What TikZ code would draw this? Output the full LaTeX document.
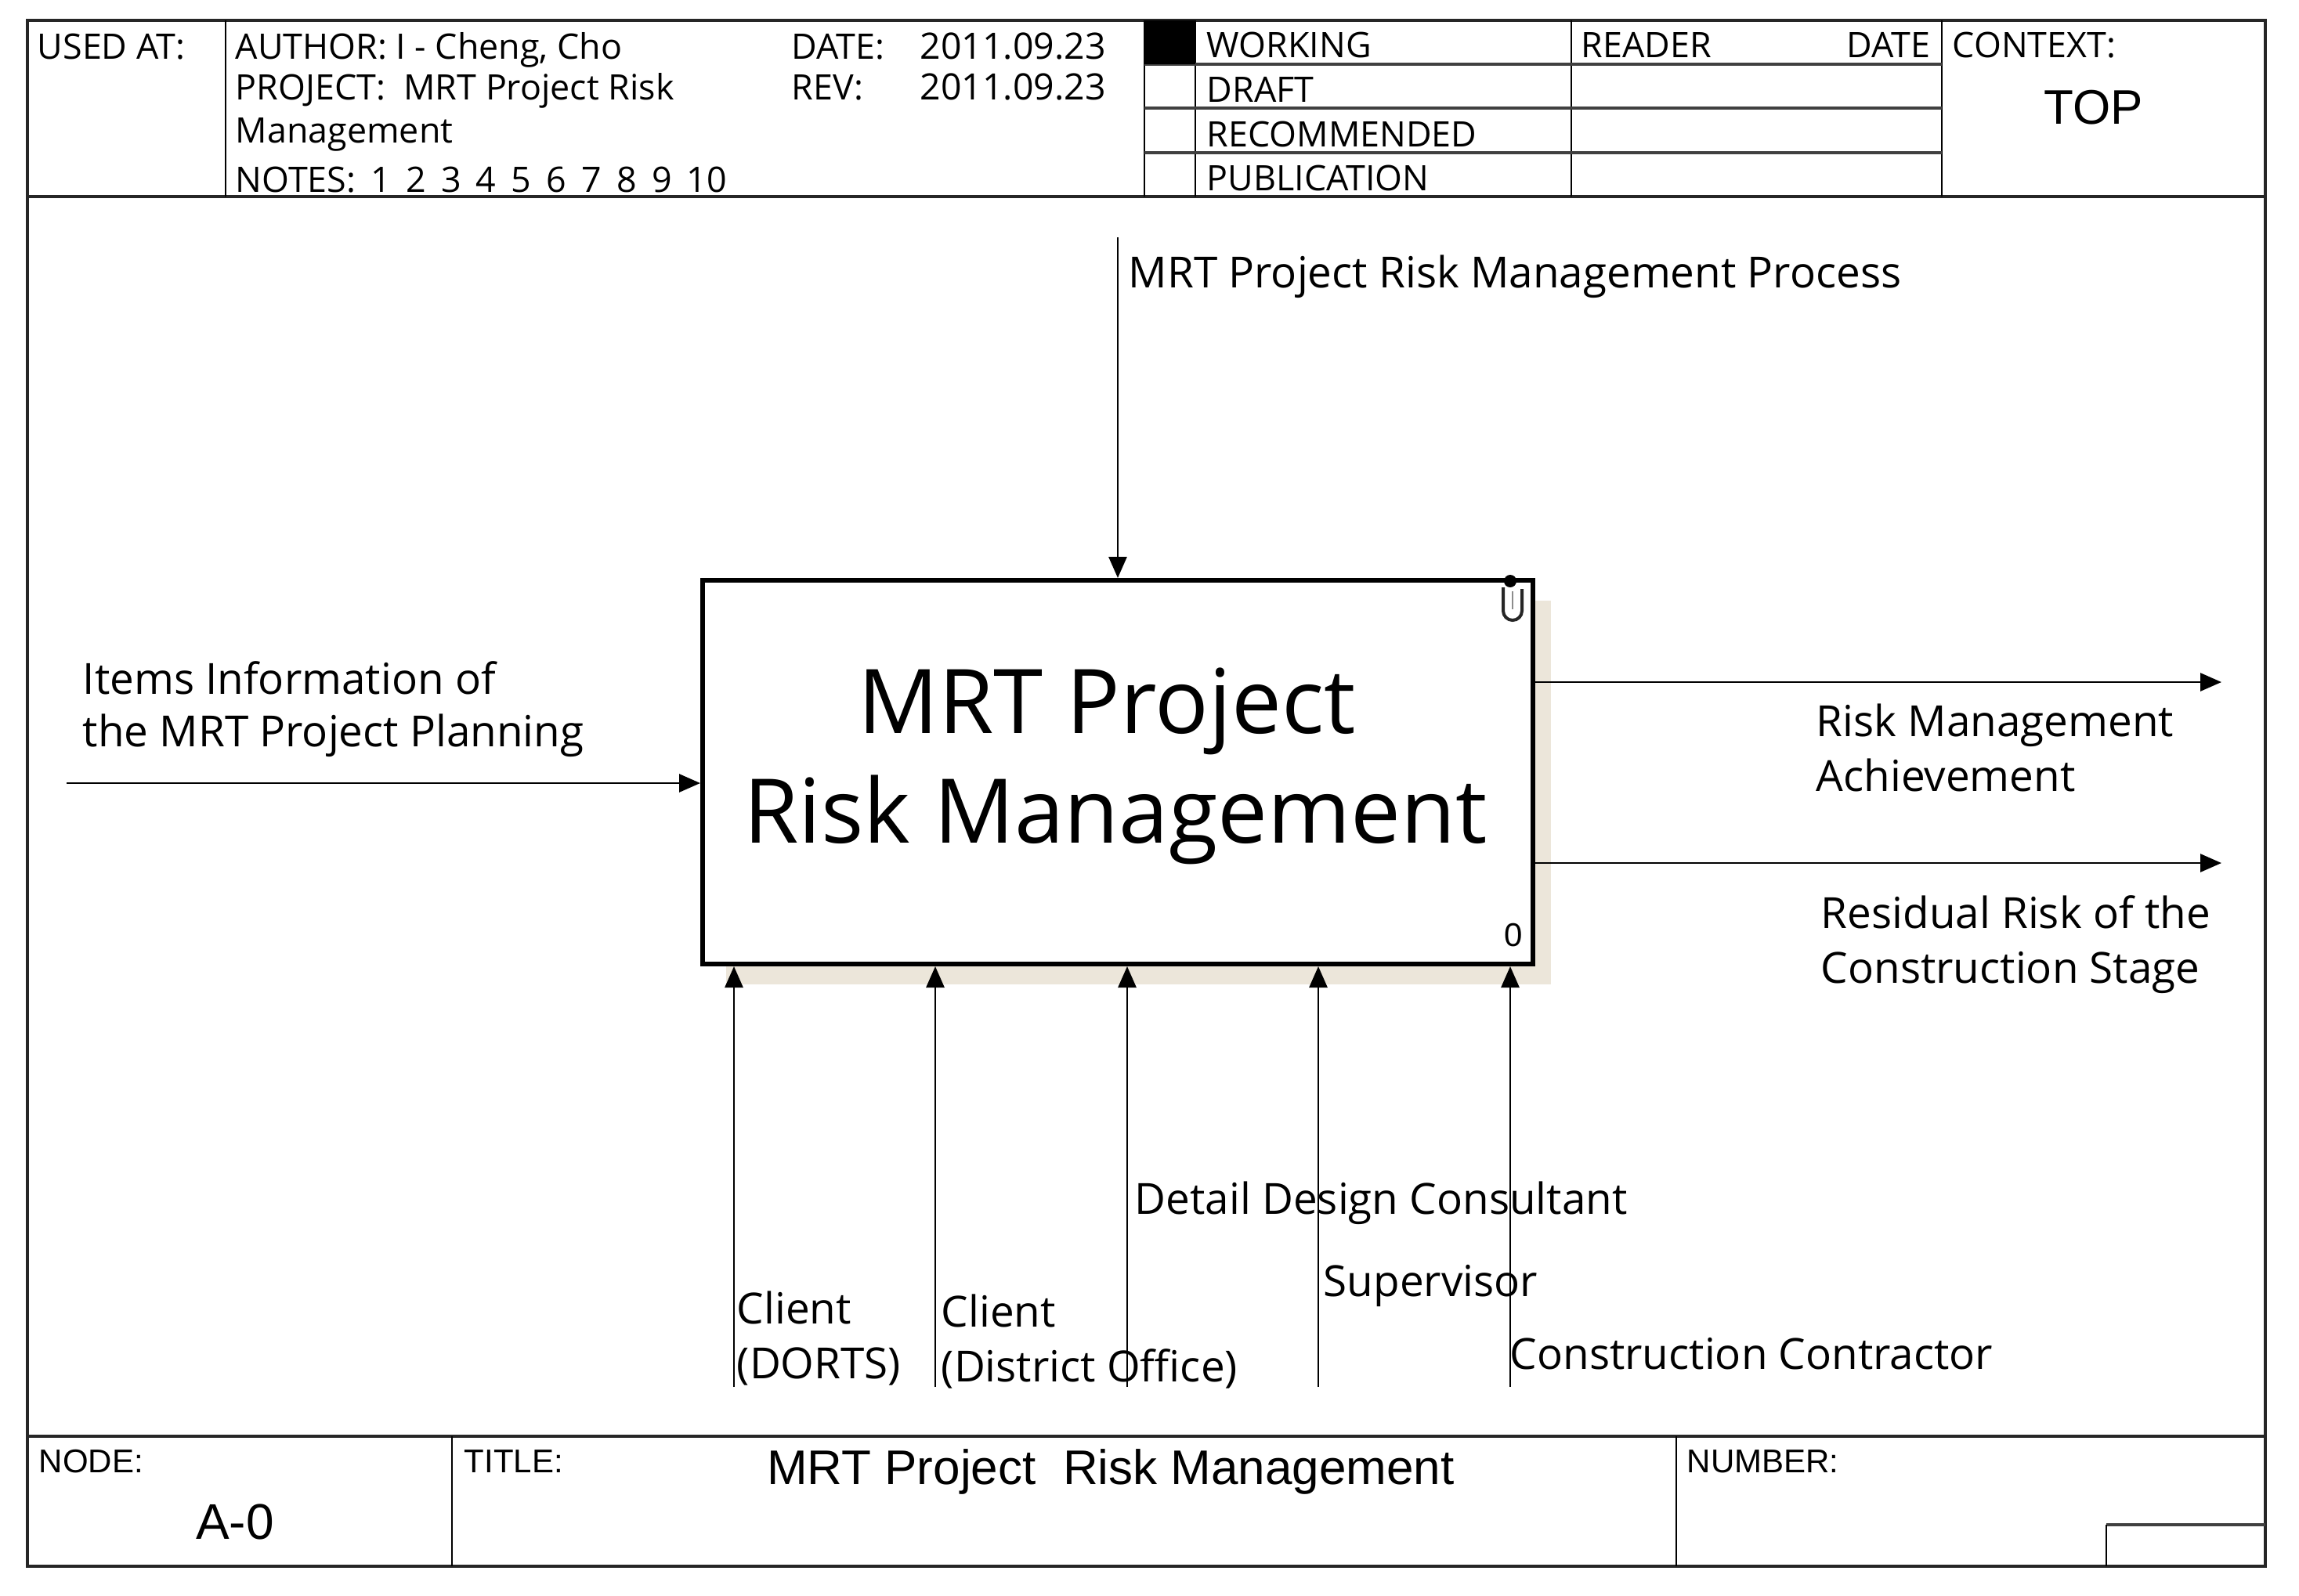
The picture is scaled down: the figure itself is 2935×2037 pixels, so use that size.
\documentclass[tikz,border=0pt]{standalone}
\usepackage{fontspec}
\setmainfont{Open Sans}
\newfontfamily\arialf{Liberation Sans}
\usetikzlibrary{arrows.meta}
\definecolor{shadowc}{RGB}{236,230,218}
\begin{document}
\begin{tikzpicture}[x=0.25pt,y=-0.25pt,
  frame/.style={line width=1.1pt, draw=black!85},
  rowline/.style={line width=1pt, draw=black!75},
  thinline/.style={line width=0.5pt, draw=black},
  arr/.style={line width=0.7pt, draw=black, -{Triangle[length=6.75pt,width=5.75pt]}},
  hdr/.style={font=\fontsize{11.2}{13}\selectfont, inner sep=0pt, anchor=base west},
  lbl/.style={font=\fontsize{13.7}{16}\selectfont, inner sep=0pt, anchor=base west},
  ar/.style={font=\arialf\fontsize{10.5}{12}\selectfont, inner sep=0pt, anchor=base west},
  boxtxt/.style={font=\fontsize{28.5}{34}\selectfont, inner sep=0pt, anchor=base},
]
\useasboundingbox (0,0) rectangle (2935,2037);
\fill[white] (0,0) rectangle (2935,2037);

% ---------- frame ----------
\draw[frame] (35,26) rectangle (2892,2000);
\draw[frame] (35,251) -- (2892,251);
\draw[frame] (35,1834) -- (2892,1834);

% ---------- header ----------
\draw[thinline] (288,26) -- (288,251);
\draw[thinline] (1461,26) -- (1461,251);
\draw[thinline] (1526,26) -- (1526,251);
\draw[thinline] (2006,26) -- (2006,251);
\draw[thinline] (2479,26) -- (2479,251);
\draw[rowline] (1461,82) -- (2479,82);
\draw[rowline] (1461,138) -- (2479,138);
\draw[rowline] (1461,195) -- (2479,195);
\fill[black] (1461,26) rectangle (1526,82);

\node[hdr] (usedat) at (47,75) {USED AT:};
\node[hdr] (author) at (300,75) {AUTHOR: I - Cheng, Cho};
\node[hdr] (project) at (300,127) {PROJECT:\ \ MRT Project Risk};
\node[hdr] (project2) at (300,182) {Management};
\node[hdr] (notes) at (300,245) {\spaceskip=4.8pt NOTES: 1 2 3 4 5 6 7 8 9 10};
\node[hdr] (datek) at (1010,75) {DATE:};
\node[hdr, font=\fontsize{11.6}{13}\selectfont] (datev) at (1174,75) {2011.09.23};
\node[hdr] (revk) at (1010,127) {REV:};
\node[hdr, font=\fontsize{11.6}{13}\selectfont] (revv) at (1174,127) {2011.09.23};
\node[hdr] (working) at (1540,73) {WORKING};
\node[hdr] (draft) at (1540,130) {DRAFT};
\node[hdr] (recomm) at (1540,187) {RECOMMENDED};
\node[hdr] (public) at (1540,243) {PUBLICATION};
\node[hdr] (reader) at (2018,73) {READER};
\node[hdr, anchor=base east] (rdate) at (2465,73) {DATE};
\node[hdr] (context) at (2492,73) {CONTEXT:};
\node[font=\arialf\fontsize{15.5}{18}\selectfont, inner sep=0pt, anchor=base] (top) at (2673,158) {TOP};

% ---------- title block ----------
\draw[thinline] (577,1834) -- (577,2000);
\draw[thinline] (2140,1834) -- (2140,2000);
\draw[rowline] (2689,1947) -- (2892,1947);
\draw[thinline] (2689,1947) -- (2689,2000);
\node[ar] (nodek) at (49,1880) {NODE:};
\node[ar] (titlek) at (592,1880) {TITLE:};
\node[ar] (numberk) at (2153,1880) {NUMBER:};
\node[font=\arialf\fontsize{16}{18}\selectfont, inner sep=0pt, anchor=base] (nodev) at (300,1965) {A-0};
\node[font=\arialf\fontsize{15.5}{18}\selectfont, inner sep=0pt, anchor=base] (titlev) at (1418,1895) {MRT Project\ \ Risk Management};

% ---------- activity box ----------
\fill[shadowc] (927,767) rectangle (1980,1257);
\node[draw, line width=1.5pt, fill=white, minimum width=265pt, minimum height=122.5pt, inner sep=0pt] (A0) at (1427,986) {};
\node[boxtxt] (boxt1) at (1413,936) {MRT Project};
\node[boxtxt] (boxt2) at (1424,1076) {Risk Management};
\node[font=\arialf\fontsize{10.5}{12}\selectfont, inner sep=0pt] (zero) at (1932,1194) {0};
% clip marker
\draw[line width=1pt, black!85] (1919,750) -- (1919,780) arc[start angle=180,end angle=0,radius=12] -- (1943,752);
\draw[line width=0.6pt, black!45] (1931,755) -- (1931,778);
\fill[black] (1928,742) circle (8);

% ---------- control ----------
\coordinate (ctl) at (1427,303);
\draw[arr] (ctl) -- (ctl |- A0.north);
\node[lbl] (ctltxt) at (1440,367) {MRT Project Risk Management Process};

% ---------- input ----------
\coordinate (inp) at (85,1000);
\draw[arr] (inp) -- (inp -| A0.west);
\node[lbl] (inptxt1) at (105,886) {Items Information of};
\node[lbl] (inptxt2) at (105,953) {the MRT Project Planning};

% ---------- outputs ----------
\coordinate (out1) at (2836,871);
\coordinate (out2) at (2836,1102);
\draw[arr] (out1 -| A0.east) -- (out1);
\draw[arr] (out2 -| A0.east) -- (out2);
\node[lbl] (o1a) at (2318,940) {Risk Management};
\node[lbl] (o1b) at (2318,1010) {Achievement};
\node[lbl] (o2a) at (2324,1185) {Residual Risk of the};
\node[lbl] (o2b) at (2324,1255) {Construction Stage};

% ---------- mechanisms ----------
\coordinate (m1) at (937,1771);
\coordinate (m2) at (1194,1771);
\coordinate (m3) at (1439,1771);
\coordinate (m4) at (1683,1771);
\coordinate (m5) at (1928,1771);
\foreach \m in {m1,m2,m3,m4,m5} {\draw[arr] (\m) -- (\m |- A0.south);}
\node[lbl] (m1a) at (940,1690) {Client};
\node[lbl] (m1b) at (940,1760) {(DORTS)};
\node[lbl] (m2a) at (1201,1694) {Client};
\node[lbl] (m2b) at (1201,1764) {(District Office)};
\node[lbl] (m3a) at (1448,1550) {Detail Design Consultant};
\node[lbl] (m4a) at (1689,1655) {Supervisor};
\node[lbl] (m5a) at (1927,1748) {Construction Contractor};
\end{tikzpicture}
\end{document}
